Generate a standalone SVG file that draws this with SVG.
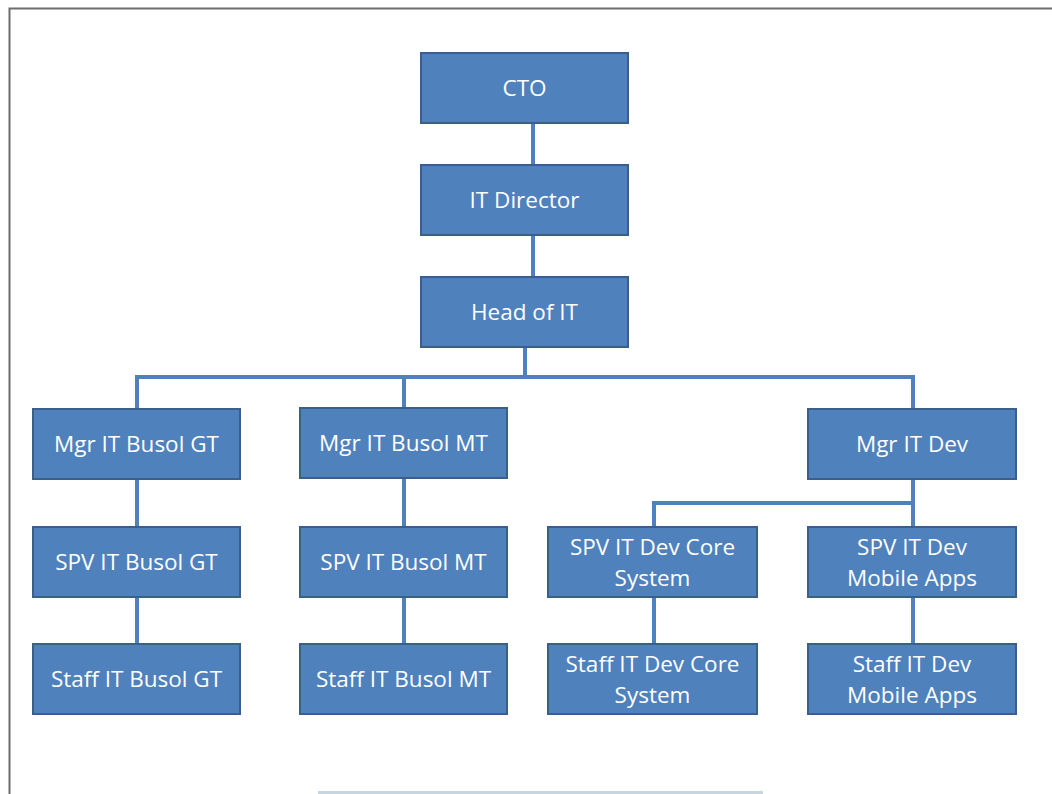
<svg xmlns="http://www.w3.org/2000/svg" width="1052" height="794" viewBox="0 0 1052 794">
<style>
.box{fill:#4f81bd;stroke:#3a5f8b;stroke-width:2}
.t{font-family:"Open Sans","Liberation Sans",sans-serif;font-size:22.5px;fill:#ffffff;text-anchor:middle;dominant-baseline:central}
.c{stroke:#4f81bd;stroke-width:4;fill:none}
</style>
<rect x="0" y="0" width="1052" height="794" fill="#ffffff"/>
<path d="M9.5 794 V8.5 H1052" stroke="#6d6d6d" stroke-width="2" fill="none"/>
<line x1="318" y1="792.5" x2="763" y2="792.5" stroke="#c7d5e0" stroke-width="3"/>
<g id="connectors">
<path class="c" d="M533 123 V165"/>
<path class="c" d="M533 235 V277"/>
<path class="c" d="M525 347 V377"/>
<path class="c" d="M137 409 V377 H913 V409"/>
<path class="c" d="M404 377 V408"/>
<path class="c" d="M137 479 V527"/>
<path class="c" d="M137 597 V644"/>
<path class="c" d="M404 478 V527"/>
<path class="c" d="M404 597 V644"/>
<path class="c" d="M913 479 V527"/>
<path class="c" d="M654 527 V503 H913"/>
<path class="c" d="M654 597 V644"/>
<path class="c" d="M913 597 V644"/>
</g>
<g id="cto"><rect class="box" x="421" y="53" width="207" height="70"/><text class="t" x="524.5" y="87.5">CTO</text></g>
<g id="it-director"><rect class="box" x="421" y="165" width="207" height="70"/><text class="t" x="524.5" y="199.5">IT Director</text></g>
<g id="head-of-it"><rect class="box" x="421" y="277" width="207" height="70"/><text class="t" x="524.5" y="311.5">Head of IT</text></g>
<g id="mgr-gt"><rect class="box" x="33" y="409" width="207" height="70"/><text class="t" x="136.5" y="443.5">Mgr IT Busol GT</text></g>
<g id="mgr-mt"><rect class="box" x="300" y="408" width="207" height="70"/><text class="t" x="403.5" y="442.5">Mgr IT Busol MT</text></g>
<g id="mgr-dev"><rect class="box" x="808" y="409" width="208" height="70"/><text class="t" x="912" y="443.5">Mgr IT Dev</text></g>
<g id="spv-gt"><rect class="box" x="33" y="527" width="207" height="70"/><text class="t" x="136.5" y="561.5">SPV IT Busol GT</text></g>
<g id="spv-mt"><rect class="box" x="300" y="527" width="207" height="70"/><text class="t" x="403.5" y="561.5">SPV IT Busol MT</text></g>
<g id="spv-core"><rect class="box" x="548" y="527" width="209" height="70"/><text class="t" x="652.5" y="546.5">SPV IT Dev Core</text><text class="t" x="652.5" y="577.5">System</text></g>
<g id="spv-mobile"><rect class="box" x="808" y="527" width="208" height="70"/><text class="t" x="912" y="546.5">SPV IT Dev</text><text class="t" x="912" y="577.5">Mobile Apps</text></g>
<g id="staff-gt"><rect class="box" x="33" y="644" width="207" height="70"/><text class="t" x="136.5" y="678.5">Staff IT Busol GT</text></g>
<g id="staff-mt"><rect class="box" x="300" y="644" width="207" height="70"/><text class="t" x="403.5" y="678.5">Staff IT Busol MT</text></g>
<g id="staff-core"><rect class="box" x="548" y="644" width="209" height="70"/><text class="t" x="652.5" y="663.5">Staff IT Dev Core</text><text class="t" x="652.5" y="694.5">System</text></g>
<g id="staff-mobile"><rect class="box" x="808" y="644" width="208" height="70"/><text class="t" x="912" y="663.5">Staff IT Dev</text><text class="t" x="912" y="694.5">Mobile Apps</text></g>
</svg>
